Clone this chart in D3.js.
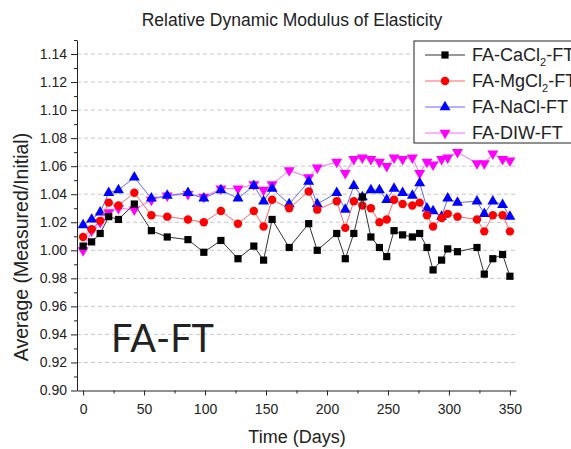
<!DOCTYPE html>
<html>
<head>
<meta charset="utf-8">
<script src="https://cdn.jsdelivr.net/npm/d3@7"></script>
<style>
  body { margin: 0; background: #fff; }
  svg { display: block; font-family: "Liberation Sans", Arial, sans-serif; }
</style>
</head>
<body>
<div id="chart"></div>
<script>
// days of freeze-thaw exposure
const days = [0, 7, 14, 21, 29, 42, 56, 69, 86, 99, 113, 127, 140, 148, 155, 169, 185, 192, 208, 215,
  222, 229, 236, 243, 249, 255, 262, 270, 276, 282, 287, 294, 299, 307, 323, 329, 336, 344, 350];

const caCl2 = [1.003, 1.006, 1.012, 1.024, 1.022, 1.033, 1.014, 1.0095, 1.0076, 0.9986, 1.007, 0.994, 1.003, 0.993, 1.022, 1.002, 1.019, 1.000, 1.012, 0.994,
  1.012, 1.038, 1.0095, 1.002, 0.9955, 1.014, 1.011, 1.0095, 1.012, 1.002, 0.986, 0.993, 1.001, 0.999, 1.002, 0.983, 0.994, 0.997, 0.9815];
const mgCl2 = [1.0095, 1.015, 1.021, 1.034, 1.032, 1.041, 1.025, 1.024, 1.022, 1.020, 1.028, 1.019, 1.028, 1.017, 1.036, 1.030, 1.042, 1.029, 1.035, 1.016,
  1.035, 1.032, 1.030, 1.020, 1.022, 1.036, 1.033, 1.032, 1.034, 1.025, 1.017, 1.023, 1.026, 1.024, 1.022, 1.0135, 1.025, 1.025, 1.0135];
const naCl = [1.018, 1.022, 1.027, 1.041, 1.043, 1.052, 1.037, 1.039, 1.041, 1.037, 1.043, 1.037, 1.046, 1.035, 1.044, 1.033, 1.049, 1.033, 1.041, 1.029,
  1.046, 1.038, 1.043, 1.043, 1.036, 1.044, 1.041, 1.039, 1.048, 1.030, 1.028, 1.024, 1.037, 1.034, 1.035, 1.026, 1.035, 1.0325, 1.024];
const diw = [1.000, 1.014, 1.020, 1.027, 1.030, 1.029, 1.036, 1.039, 1.040, 1.038, 1.044, 1.044, 1.047, 1.043, 1.047, 1.057, 1.052, 1.059, 1.063, 1.055,
  1.065, 1.066, 1.065, 1.063, 1.060, 1.066, 1.065, 1.066, 1.055, 1.063, 1.061, 1.065, 1.066, 1.070, 1.062, 1.062, 1.069, 1.065, 1.064];

const xTicks = [0, 50, 100, 150, 200, 250, 300, 350];
const yTicks = [0.90, 0.92, 0.94, 0.96, 0.98, 1.00, 1.02, 1.04, 1.06, 1.08, 1.10, 1.12, 1.14];

const series = [
  { name: ["FA-CaCl", "2", "-FT"], values: caCl2, color: "#000", line: "#333", symbol: d3.symbolSquare, size: 52, rot: 0 },
  { name: ["FA-MgCl", "2", "-FT"], values: mgCl2, color: "#f00", line: "#f66", symbol: d3.symbolCircle, size: 56, rot: 0 },
  { name: ["FA-NaCl-FT"], values: naCl, color: "#00f", line: "#66f", symbol: d3.symbolTriangle, size: 52, rot: 0 },
  { name: ["FA-DIW-FT"], values: diw, color: "#f0f", line: "#f6f", symbol: d3.symbolTriangle, size: 52, rot: 180 }
];

const width = 571, height = 449;
const marginLeft = 77, marginRight = 55, marginTop = 40, marginBottom = 58.5;

const svg = d3.select("#chart").append("svg")
  .attr("width", width)
  .attr("height", height);

svg.append("rect").attr("width", width).attr("height", height).attr("fill", "#fff");

const x = d3.scaleLinear().domain([-5, 355]).range([marginLeft, width - marginRight]);
const y = d3.scaleLinear().domain([0.90, 1.15]).range([height - marginBottom, marginTop]);

// dashed grid
svg.append("g")
  .selectAll("line")
  .data(yTicks.slice(1))
  .join("line")
    .attr("x1", marginLeft)
    .attr("x2", width - marginRight)
    .attr("y1", d => y(d))
    .attr("y2", d => y(d))
    .attr("stroke", "#c8c8c8")
    .attr("stroke-dasharray", "4,3");

// minor ticks
svg.append("g")
  .attr("transform", `translate(${marginLeft},0)`)
  .call(d3.axisLeft(y).tickValues(yTicks.map(d => d + 0.01)).tickSize(3).tickFormat(""))
  .call(g => g.select(".domain").remove());
svg.append("g")
  .attr("transform", `translate(0,${y(0.90)})`)
  .call(d3.axisBottom(x).tickValues(xTicks.map(d => d + 25).filter(d => d < 355)).tickSize(3).tickFormat(""))
  .call(g => g.select(".domain").remove());

svg.append("g")
  .attr("transform", `translate(${marginLeft},0)`)
  .call(d3.axisLeft(y).tickValues(yTicks).tickFormat(d3.format(".2f")).tickSize(6).tickSizeOuter(0).tickPadding(4))
  .call(g => g.selectAll("text").attr("font-size", 14).attr("fill", "#222").attr("font-family", null));

svg.append("g")
  .attr("transform", `translate(0,${y(0.90)})`)
  .call(d3.axisBottom(x).tickValues(xTicks).tickSize(5).tickSizeOuter(0).tickPadding(9))
  .call(g => g.selectAll("text").attr("font-size", 14).attr("fill", "#222").attr("font-family", null));

svg.selectAll(".domain, .tick line").attr("stroke", "#222");

// series, drawn back to front
const line = d3.line().x((d, i) => x(days[i])).y(d => y(d));
for (const s of series.slice().reverse()) {
  svg.append("path")
    .datum(s.values)
    .attr("fill", "none")
    .attr("stroke", s.line)
    .attr("stroke-width", 1)
    .attr("d", line);
  svg.append("g")
    .selectAll("path")
    .data(s.values)
    .join("path")
      .attr("transform", (d, i) => `translate(${x(days[i])},${y(d)}) rotate(${s.rot})`)
      .attr("d", d3.symbol(s.symbol, s.size))
      .attr("fill", s.color);
}

// titles
svg.append("text")
  .attr("x", 292).attr("y", 26)
  .attr("text-anchor", "middle")
  .attr("font-size", 17.5)
  .attr("fill", "#222")
  .text("Relative Dynamic Modulus of Elasticity");

svg.append("text")
  .attr("x", 297).attr("y", 443)
  .attr("text-anchor", "middle")
  .attr("font-size", 18)
  .attr("fill", "#222")
  .text("Time (Days)");

svg.append("text")
  .attr("transform", "translate(28,247) rotate(-90)")
  .attr("text-anchor", "middle")
  .attr("font-size", 19.5)
  .attr("fill", "#222")
  .text("Average (Measured/Initial)");

svg.append("text")
  .attr("x", 111).attr("y", 352)
  .attr("font-family", "Lato, 'Open Sans', sans-serif")
  .attr("font-size", 38)
  .attr("fill", "#222")
  .text("FA-FT");

// legend
const legend = svg.append("g").attr("transform", "translate(414,41)");
legend.append("rect")
  .attr("width", 200).attr("height", 102)
  .attr("fill", "#fff").attr("stroke", "#222");

series.forEach((s, i) => {
  const g = legend.append("g").attr("transform", `translate(0,${14 + i * 26})`);
  g.append("line").attr("x1", 11).attr("x2", 51).attr("stroke", s.line);
  g.append("path")
    .attr("transform", `translate(31,0) rotate(${s.rot})`)
    .attr("d", d3.symbol(s.symbol, s.size))
    .attr("fill", s.color);
  const t = g.append("text")
    .attr("x", 58).attr("dy", "0.35em")
    .attr("font-size", 18)
    .attr("fill", "#222");
  t.append("tspan").text(s.name[0]);
  if (s.name.length > 1) {
    t.append("tspan").attr("font-size", 11).attr("dy", 5).text(s.name[1]);
    t.append("tspan").attr("dy", -5).text(s.name[2]);
  }
});
</script>
</body>
</html>
